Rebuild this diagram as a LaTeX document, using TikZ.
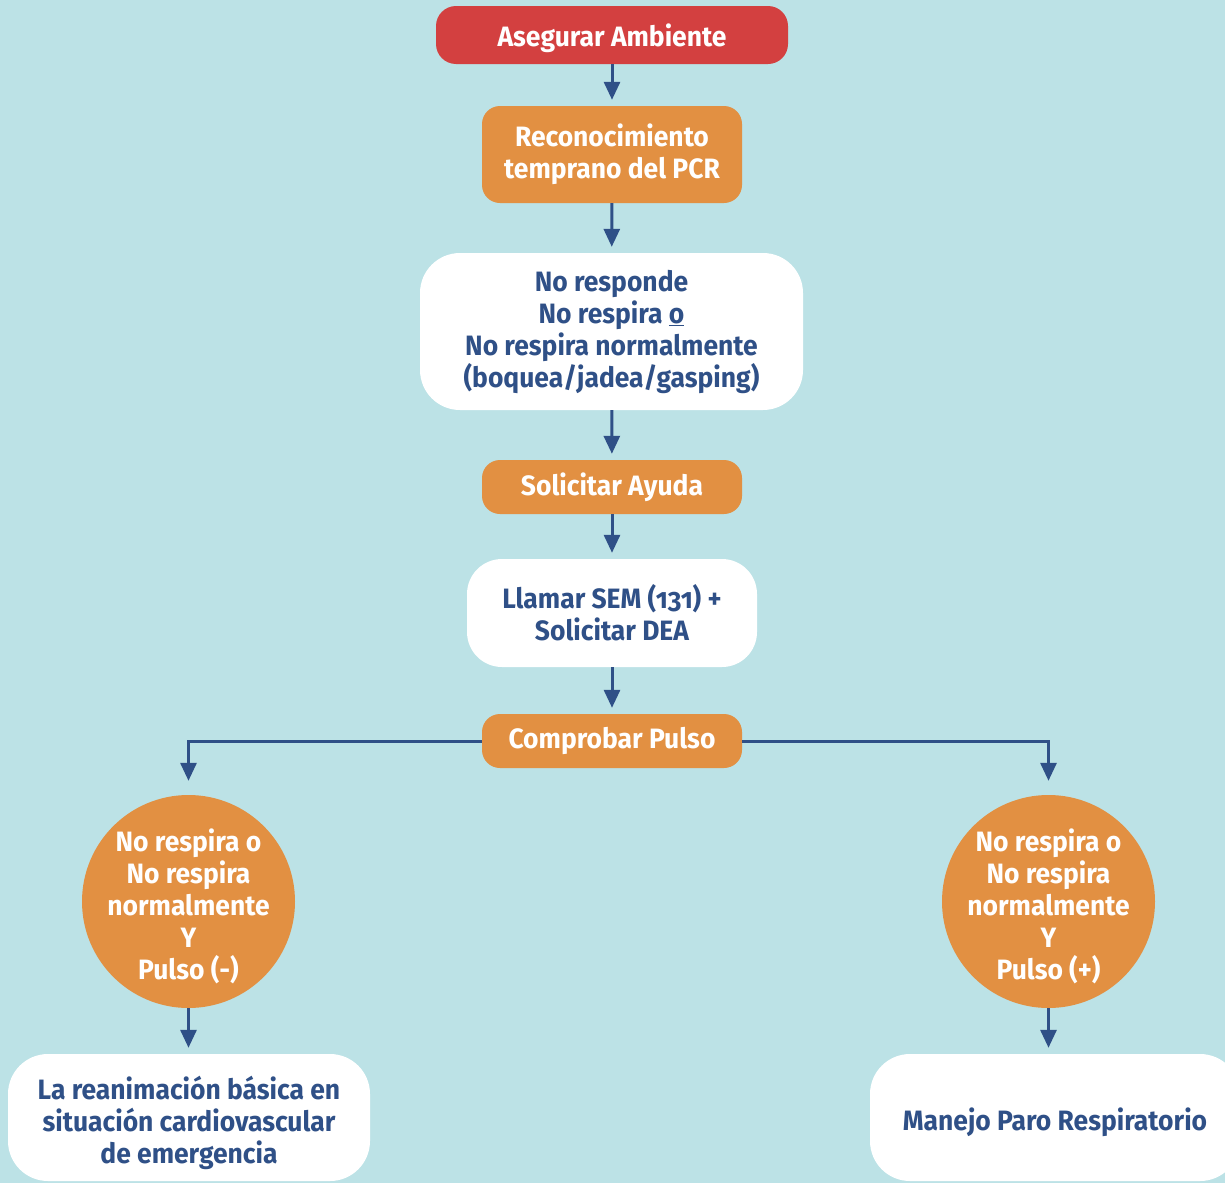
\documentclass[tikz,border=0pt]{standalone}
\usepackage{fontspec}
\setmainfont{Fira Sans}[FakeStretch=0.945,Numbers=OldStyle]
\usetikzlibrary{arrows.meta}
\definecolor{bg}{RGB}{188,226,230}
\definecolor{redbox}{RGB}{211,64,64}
\definecolor{orbox}{RGB}{226,144,66}
\definecolor{navy}{RGB}{47,80,135}
\begin{document}
\begin{tikzpicture}[x=1pt,y=-1pt,
  base/.style={inner sep=0pt, align=center, font=\fontsize{28}{32}\selectfont\bfseries},
  redstep/.style={base, fill=redbox, text=white, rounded corners=20pt},
  orstep/.style={base, fill=orbox, text=white, rounded corners=18pt},
  whitestep/.style={base, fill=white, text=navy, rounded corners=40pt},
  orcirc/.style={base, circle, fill=orbox, text=white, minimum size=213pt},
  lowtext/.style 2 args={label={[base, text=#1, yshift=-5pt]center:{#2}}},
  arr/.style={draw=navy, line width=3pt, -{Triangle[length=18pt,width=16pt]}, shorten >=6pt}
]
\fill[bg] (0,0) rectangle (1225,1183);
\useasboundingbox (0,0) rectangle (1225,1183);

\node[redstep, minimum width=352pt, minimum height=58pt, label={[base, text=white, yshift=-3pt]center:Asegurar Ambiente}] (a) at (612,35) {};
\node[orstep, minimum width=260pt, minimum height=97pt] (b) at (612,154.5) {Reconocimiento\\temprano del PCR};
\node[whitestep, minimum width=383pt, minimum height=157pt] (c) at (611.5,331.5) {No responde\\No respira \underline{o}\\No respira normalmente\\(boquea/jadea/gasping)};
\node[orstep, minimum width=260pt, minimum height=54pt] (d) at (612,487) {Solicitar Ayuda};
\node[whitestep, rounded corners=35pt, minimum width=290pt, minimum height=108pt] (e) at (612,613) {Llamar SEM (131) +\\Solicitar DEA};
\node[orstep, minimum width=260pt, minimum height=54pt] (f) at (612,741) {Comprobar Pulso};
\node[orcirc, lowtext={white}{No respira o\\No respira\\normalmente\\Y\\Pulso (-)}] (g) at (188.5,901.5) {};
\node[orcirc, lowtext={white}{No respira o\\No respira\\normalmente\\Y\\Pulso (+)}] (h) at (1048.5,901.5) {};
\node[whitestep, minimum width=362pt, minimum height=127pt, lowtext={navy}{La reanimación básica en\\situación cardiovascular\\de emergencia}] (i) at (189,1117.5) {};
\node[whitestep, minimum width=370pt, minimum height=127pt, lowtext={navy}{Manejo Paro Respiratorio}] (j) at (1055,1117.5) {};

\draw[arr] (a) -- (b);
\draw[arr] (b) -- (c);
\draw[arr] (c) -- (d);
\draw[arr] (d) -- (e);
\draw[arr] (e) -- (f);
\draw[arr, shorten >=14pt] (f.west) -| (g.north);
\draw[arr, shorten >=14pt] (f.east) -| (h.north);
\draw[arr] (g.south) -- (g.south |- i.north);
\draw[arr] (h.south) -- (h.south |- j.north);
\end{tikzpicture}
\end{document}
